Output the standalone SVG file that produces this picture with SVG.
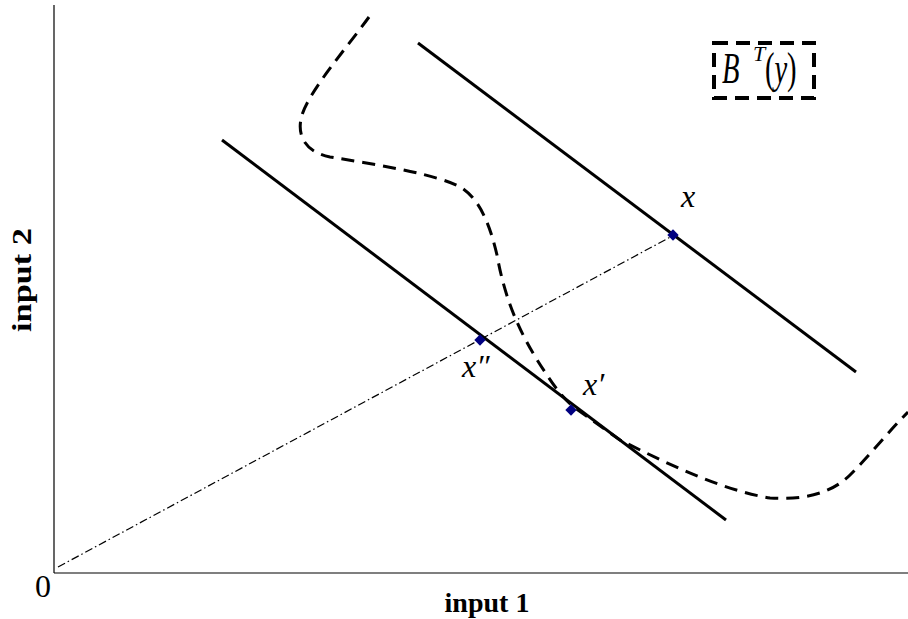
<svg xmlns="http://www.w3.org/2000/svg" width="908" height="619" viewBox="0 0 908 619">
<style>
.axis{stroke:#000;stroke-width:1.2;fill:none}
.solid{stroke:#000;stroke-width:3;fill:none}
.dash{stroke:#000;stroke-width:3;fill:none;stroke-dasharray:13 8}
.dd{stroke:#000;stroke-width:1.2;fill:none;stroke-dasharray:8 3 1.5 3}
.pt{fill:#000080}
.lbl{font-family:"Liberation Serif","Times New Roman",serif;font-style:italic}
.ax{font-family:"Liberation Serif",serif;font-weight:bold}
</style>
<rect width="908" height="619" fill="#fff"/>
<g id="axes">
<line class="axis" x1="54" y1="5" x2="54" y2="573" stroke="#555"/>
<line class="axis" x1="54" y1="573" x2="908" y2="573"/>
<text x="43" y="597" font-family="Liberation Serif,serif" font-size="32" text-anchor="middle">0</text>
<text class="ax" x="487" y="612" font-size="28" text-anchor="middle">input 1</text>
<text class="ax" transform="translate(31,280) rotate(-90)" font-size="28" text-anchor="middle" textLength="104" lengthAdjust="spacingAndGlyphs">input 2</text>
</g>
<g id="connectors">
<line class="solid" x1="418" y1="43" x2="856" y2="372"/>
<line class="solid" x1="222" y1="140" x2="726" y2="520"/>
<line class="dd" x1="58" y1="567" x2="676" y2="234"/>
<path class="dash" d="M369,17 C345,50 310,90 302,115 C296,135 305,152 330,157 C380,165 440,175 462,188 C480,200 490,225 497,255 C505,300 520,335 545,372 C555,388 565,400 575,408 L620,440 C660,460 720,490 770,498 C800,500 830,495 850,475 C870,455 890,430 908,412"/>
</g>
<g id="point-x">
<rect class="pt" x="669" y="231" width="8" height="8" transform="rotate(45 673 235)"/>
<text class="lbl" x="681" y="207" font-size="32">x</text>
</g>
<g id="point-x2">
<rect class="pt" x="476" y="336" width="8" height="8" transform="rotate(45 480 340)"/>
<text class="lbl" x="462" y="377" font-size="32">x″</text>
</g>
<g id="point-x1">
<rect class="pt" x="567" y="406" width="8" height="8" transform="rotate(45 571 410)"/>
<text class="lbl" x="583" y="395" font-size="32">x′</text>
</g>
<g id="legend">
<rect x="714" y="43" width="100" height="55" fill="none" stroke="#000" stroke-width="4" stroke-dasharray="14 8"/>
<g transform="translate(722,83) scale(0.65,1)">
<text class="lbl" x="0" y="0" font-size="44">B</text>
<text x="66" y="0" font-family="Liberation Serif,serif" font-size="44">(<tspan font-style="italic">y</tspan>)</text>
</g>
<text class="lbl" x="753" y="61" font-size="22">T</text>
</g>
</svg>
